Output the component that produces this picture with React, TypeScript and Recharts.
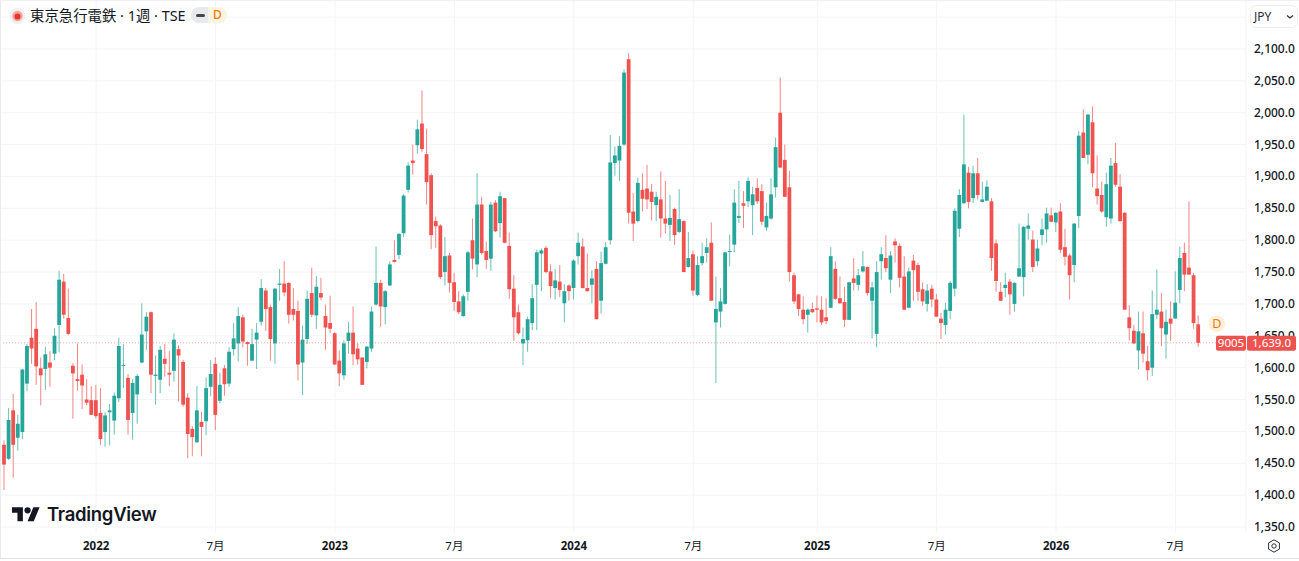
import React from 'react';
import {
  Bar,
  CartesianGrid,
  ComposedChart,
  ReferenceDot,
  ReferenceLine,
  XAxis,
  YAxis,
} from 'recharts';

// weekly OHLC, JPY
const opens = [
  1479,1457,1533,1490,1499,1575,1647,1661,1599,1598,1608,1622,1667,1735,1678,1603,1582,1589,1550,1549,
  1549,1529,1499,1530,1517,1552,1603,1584,1529,1558,1608,1657,1687,1587,1581,1614,1592,1595,1629,1609,
  1553,1504,1483,1515,1516,1570,1606,1548,1599,1575,1629,1638,1679,1640,1611,1644,1672,1721,1695,1638,
  1730,1732,1733,1692,1689,1608,1645,1717,1682,1717,1681,1670,1654,1611,1588,1642,1655,1630,1616,1609,
  1630,1699,1733,1695,1729,1769,1777,1811,1879,1925,1949,1983,1935,1902,1830,1823,1750,1776,1734,1704,
  1681,1719,1800,1762,1856,1783,1771,1859,1827,1866,1791,1724,1687,1638,1643,1670,1730,1779,1788,1751,
  1725,1735,1701,1729,1725,1775,1790,1725,1730,1755,1705,1763,1800,1921,1925,1950,2084,1845,1830,1879,
  1881,1876,1855,1864,1834,1824,1849,1813,1830,1758,1778,1714,1764,1780,1796,1671,1688,1700,1782,1793,
  1835,1858,1861,1855,1882,1877,1820,1834,1883,2000,1926,1883,1745,1715,1691,1683,1692,1693,1691,1679,
  1694,1755,1709,1703,1675,1740,1730,1751,1758,1705,1653,1767,1772,1738,1798,1791,1743,1694,1768,1761,
  1723,1700,1724,1707,1677,1667,1689,1724,1818,1858,1906,1866,1905,1860,1862,1861,1795,1719,1725,1735,
  1700,1743,1742,1818,1801,1767,1808,1817,1839,1828,1845,1789,1776,1761,1838,1969,1934,1985,1881,1871,
  1836,1834,1921,1884,1843,1679,1658,1627,1654,1610,1600,1683,1688,1652,1677,1677,1722,1780,1757,1745,1668,
];
const highs = [
  1486,1537,1559,1526,1598,1637,1692,1703,1616,1633,1626,1662,1752,1747,1724,1607,1638,1605,1582,1571,
  1573,1568,1530,1543,1561,1647,1637,1590,1582,1590,1701,1687,1688,1619,1634,1637,1626,1654,1635,1612,
  1560,1508,1571,1531,1585,1612,1616,1592,1604,1632,1670,1695,1683,1641,1661,1670,1739,1725,1699,1725,
  1755,1767,1734,1725,1705,1666,1721,1757,1744,1741,1699,1713,1656,1627,1643,1672,1696,1638,1616,1634,
  1696,1790,1738,1722,1767,1800,1811,1872,1922,1950,1989,2035,1975,1905,1837,1825,1805,1780,1749,1720,
  1715,1783,1834,1905,1868,1798,1860,1863,1876,1866,1812,1745,1699,1663,1680,1731,1785,1787,1791,1762,
  1755,1761,1731,1731,1770,1812,1803,1779,1753,1767,1782,1797,1965,1947,1963,2068,2093,1874,1898,1905,
  1918,1888,1876,1908,1893,1871,1851,1880,1831,1813,1784,1775,1796,1803,1828,1743,1725,1782,1809,1880,
  1893,1877,1899,1884,1897,1888,1859,1897,1961,2055,1950,1909,1749,1716,1712,1693,1702,1713,1712,1709,
  1789,1767,1743,1727,1735,1772,1755,1783,1759,1735,1767,1789,1808,1783,1803,1795,1775,1757,1777,1765,
  1734,1731,1730,1716,1686,1702,1736,1850,1880,1997,1915,1917,1929,1892,1894,1866,1801,1734,1749,1739,
  1734,1826,1822,1842,1815,1801,1834,1851,1851,1844,1858,1818,1779,1827,1971,2005,1998,2010,1933,1892,
  1906,1929,1953,1904,1844,1698,1667,1688,1688,1634,1721,1754,1717,1691,1704,1751,1790,1796,1861,1749,1682,
];
const lows = [
  1408,1455,1427,1470,1488,1563,1606,1573,1541,1565,1570,1612,1624,1677,1651,1520,1564,1535,1541,1526,
  1520,1479,1476,1478,1495,1546,1568,1495,1487,1512,1607,1628,1560,1542,1560,1586,1571,1578,1547,1539,
  1458,1461,1482,1461,1494,1555,1502,1544,1556,1570,1619,1610,1632,1603,1610,1598,1666,1658,1611,1606,
  1705,1712,1669,1674,1580,1557,1637,1679,1661,1706,1628,1654,1604,1571,1581,1622,1604,1605,1573,1599,
  1625,1697,1664,1668,1728,1765,1770,1805,1875,1903,1936,1939,1856,1786,1788,1739,1729,1718,1689,1684,
  1680,1705,1754,1742,1777,1755,1752,1813,1804,1795,1708,1642,1652,1604,1625,1659,1659,1720,1748,1709,
  1707,1711,1671,1705,1707,1762,1724,1719,1701,1676,1685,1762,1793,1901,1893,1948,1826,1799,1828,1845,
  1849,1831,1830,1804,1811,1799,1793,1811,1750,1757,1713,1712,1760,1765,1705,1576,1663,1699,1759,1781,
  1827,1819,1852,1808,1857,1824,1815,1832,1867,1913,1868,1735,1700,1681,1668,1655,1686,1671,1667,1668,
  1693,1706,1700,1664,1675,1721,1721,1749,1713,1646,1632,1738,1750,1717,1765,1726,1690,1693,1705,1705,
  1697,1688,1695,1680,1645,1652,1676,1712,1805,1857,1850,1858,1864,1859,1861,1752,1719,1705,1711,1683,
  1688,1742,1712,1801,1750,1759,1792,1796,1828,1813,1780,1760,1707,1734,1819,1929,1919,1883,1856,1843,
  1821,1826,1884,1829,1691,1643,1637,1597,1608,1580,1587,1676,1634,1614,1642,1677,1701,1720,1746,1661,1633,
];
const closes = [
  1448,1518,1479,1512,1597,1634,1630,1602,1588,1621,1600,1650,1738,1683,1653,1591,1579,1572,1545,1526,
  1524,1488,1525,1533,1556,1634,1604,1518,1576,1587,1652,1680,1589,1589,1628,1606,1589,1644,1619,1542,
  1496,1491,1533,1507,1568,1590,1526,1573,1574,1625,1646,1681,1641,1637,1637,1655,1725,1692,1645,1724,
  1732,1718,1683,1683,1605,1644,1708,1683,1727,1710,1663,1661,1605,1591,1638,1655,1621,1613,1573,1633,
  1688,1733,1696,1720,1762,1766,1810,1870,1917,1921,1974,1943,1891,1808,1822,1742,1775,1733,1703,1687,
  1712,1781,1771,1856,1780,1769,1856,1814,1869,1796,1723,1679,1654,1645,1676,1709,1781,1784,1750,1728,
  1737,1722,1720,1720,1768,1796,1725,1720,1740,1676,1764,1789,1922,1933,1948,2063,1843,1826,1890,1865,
  1864,1860,1868,1834,1826,1835,1808,1833,1750,1772,1721,1761,1775,1789,1705,1692,1704,1781,1783,1859,
  1838,1854,1893,1872,1861,1829,1838,1872,1946,1914,1868,1750,1704,1692,1676,1691,1687,1691,1671,1673,
  1775,1708,1701,1675,1734,1733,1745,1759,1717,1726,1750,1778,1756,1776,1792,1741,1691,1751,1753,1719,
  1704,1721,1707,1680,1670,1691,1733,1846,1871,1919,1860,1905,1871,1864,1884,1772,1736,1705,1730,1715,
  1733,1756,1821,1823,1758,1787,1817,1842,1829,1843,1785,1774,1745,1826,1964,1929,1997,1905,1869,1845,
  1888,1917,1887,1830,1691,1662,1638,1657,1622,1596,1684,1691,1662,1672,1669,1702,1772,1746,1746,1670,1639,
];

const priceTicks = [1350,1400,1450,1500,1550,1600,1650,1700,1750,1800,1850,1900,1950,2000,2050,2100];
const gridPrices = [...priceTicks, 2150];
const timeTicks = [20,46,72,98,124,150,177,203,229,255];
const timeLabels = ['2022','7月','2023','7月','2024','7月','2025','7月','2026','7月'];

const lastPrice = 1639;
const symbolCode = '9005';
const dividendWeek = 264;
const dividendPrice = 1669;

const UP = '#26a69a';
const DOWN = '#ef5350';
const GRID = '#f3f4f6';
const TEXT = '#131722';
const FONT = '"Noto Sans", "Noto Sans CJK JP", sans-serif';

const candles = opens.map((open, i) => ({
  week: i,
  open,
  high: highs[i],
  low: lows[i],
  close: closes[i],
  range: [lows[i], highs[i]],
}));

const fmtPrice = (v: number) => v.toLocaleString('en-US', { minimumFractionDigits: 1 });

// wick + body, the body is placed from the bar's own high/low pixels
const Candle = (props: any) => {
  const { x, y, width, height, payload } = props;
  const { open, high, low, close } = payload;
  const top = Math.min(y, y + height);
  const h = Math.abs(height);
  const perUnit = high > low ? h / (high - low) : 0;
  const bodyTop = top + (high - Math.max(open, close)) * perUnit;
  const bodyH = Math.max(Math.abs(open - close) * perUnit, 1);
  const cx = x + width / 2;
  const color = close >= open ? UP : DOWN;
  return (
    <g>
      <rect x={cx - 0.5} y={top} width={1} height={h} fill={color} fillOpacity={0.7} />
      <rect x={cx - 1.9} y={bodyTop} width={3.8} height={bodyH} fill={color} />
    </g>
  );
};

const TimeTick = (props: any) => {
  const { x, payload } = props;
  const label = timeLabels[timeTicks.indexOf(payload.value)];
  const isYear = !label.includes('月');
  return (
    <text
      x={x}
      y={550}
      textAnchor="middle"
      fontSize={11.5}
      fontFamily={FONT}
      fontWeight={isYear ? 700 : 400}
      fill={TEXT}
    >
      {label}
    </text>
  );
};

// the last-price tick is the red tag, it comes last so it covers 1,650.0 like the original
const PriceTick = (props: any) => {
  const { x, y, payload } = props;
  if (payload.value === lastPrice) {
    return (
      <g fontFamily={FONT} fontSize={11.5} fill="#fff" textAnchor="middle">
        <rect x={1216} y={y - 7} width={30} height={15} fill={DOWN} rx={2} />
        <rect x={1247} y={y - 7} width={49} height={15} fill={DOWN} rx={2} />
        <text x={1231} y={y + 4.5}>{symbolCode}</text>
        <text x={1271.5} y={y + 4.5}>{fmtPrice(lastPrice)}</text>
      </g>
    );
  }
  return (
    <text x={x} y={y + 4} fill={TEXT} fontSize={12} fontFamily={FONT} fontWeight={500}>
      {fmtPrice(payload.value)}
    </text>
  );
};

const DividendMark = (props: any) => {
  const { cx, cy } = props;
  return (
    <g>
      <circle cx={cx} cy={cy} r={8.5} fill="#fff0dc" />
      <text x={cx} y={cy + 4.5} textAnchor="middle" fontSize={12.5} fontFamily={FONT} fill="#f57c00">
        D
      </text>
    </g>
  );
};

const Legend = () => (
  <div style={{ position: 'absolute', left: 0, top: 0, height: 30, pointerEvents: 'none' }}>
    <svg width={18} height={18} style={{ position: 'absolute', left: 9, top: 7 }}>
      <circle cx={8.5} cy={9} r={8} fill="#eef0f5" />
      <circle cx={8.5} cy={9} r={5.2} fill="#f7a29b" />
      <circle cx={8.5} cy={9.5} r={3} fill="#e5372c" />
    </svg>
    <div
      style={{
        position: 'absolute',
        left: 30,
        top: 6,
        whiteSpace: 'nowrap',
        fontFamily: FONT,
        fontSize: 14.4,
        lineHeight: '20px',
        color: TEXT,
      }}
    >
      東京急行電鉄 · 1週 · TSE
    </div>
    <div
      style={{
        position: 'absolute',
        left: 191,
        top: 7,
        width: 17,
        height: 16,
        background: '#e8e9ec',
        borderRadius: '8px 0 0 8px',
      }}
    >
      <div style={{ position: 'absolute', left: 5, top: 6.5, width: 9, height: 3.5, borderRadius: 2, background: '#43464f' }} />
    </div>
    <div
      style={{
        position: 'absolute',
        left: 208,
        top: 7,
        width: 19,
        height: 16,
        background: '#fff3e4',
        borderRadius: '0 8px 8px 0',
        color: '#f57c00',
        fontFamily: FONT,
        fontSize: 12,
        fontWeight: 500,
        lineHeight: '16px',
        textAlign: 'center',
      }}
    >
      D
    </div>
  </div>
);

const CurrencyButton = () => (
  <div
    style={{
      position: 'absolute',
      left: 1250,
      top: 5,
      width: 46,
      height: 21,
      background: '#fff',
      border: '1px solid #eceef2',
      borderRadius: 6,
      fontFamily: FONT,
      fontSize: 12,
      lineHeight: '21px',
      color: '#2a2e39',
    }}
  >
    <span style={{ position: 'absolute', left: 3 }}>JPY</span>
    <svg width={8} height={6} style={{ position: 'absolute', left: 35, top: 8 }}>
      <path d="M1 1.5 L4 4 L7 1.5" fill="none" stroke="#2a2e39" strokeWidth={1.2} />
    </svg>
  </div>
);

const Watermark = () => (
  <div style={{ position: 'absolute', left: 12, top: 504, height: 22, pointerEvents: 'none' }}>
    <svg width={28} height={22} viewBox="0 0 36 28" style={{ position: 'absolute', left: 0, top: 0 }}>
      <path d="M14 22H7V11H0V4h14v18zM28 22h-8l7.5-18h8L28 22z" fill={TEXT} />
      <circle cx={20} cy={8} r={4} fill={TEXT} />
    </svg>
    <div
      style={{
        position: 'absolute',
        left: 35,
        top: -1,
        fontFamily: 'Inter, sans-serif',
        fontSize: 18.5,
        fontWeight: 600,
        lineHeight: '22px',
        letterSpacing: -0.3,
        color: TEXT,
        whiteSpace: 'nowrap',
      }}
    >
      TradingView
    </div>
  </div>
);

const SettingsIcon = () => (
  <svg width={16} height={16} viewBox="0 0 16 16" style={{ position: 'absolute', left: 1266, top: 538 }}>
    <path
      d="M8 1.8 L13.4 4.9 V11.1 L8 14.2 L2.6 11.1 V4.9 Z"
      fill="none"
      stroke="#2a2e39"
      strokeWidth={1}
      strokeLinejoin="round"
    />
    <circle cx={8} cy={8} r={2.2} fill="none" stroke="#2a2e39" strokeWidth={1} />
  </svg>
);

export default function App() {
  return (
    <div
      style={{
        position: 'absolute',
        left: 0,
        top: 0,
        width: 1299,
        height: 561,
        background: '#fff',
        overflow: 'hidden',
      }}
    >
      <ComposedChart
        width={1299}
        height={561}
        data={candles}
        margin={{ top: 1, right: 0, bottom: 3, left: 0 }}
      >
        <CartesianGrid stroke={GRID} horizontalValues={gridPrices} />
        <XAxis
          dataKey="week"
          type="number"
          domain={[-0.936, 270.35]}
          allowDataOverflow
          ticks={timeTicks}
          interval={0}
          height={25}
          axisLine={false}
          tickLine={false}
          tick={<TimeTick />}
        />
        <YAxis
          orientation="right"
          width={53}
          domain={[1340.6, 2175.3]}
          allowDataOverflow
          ticks={[...priceTicks, lastPrice]}
          interval={0}
          axisLine={false}
          tickLine={false}
          tickMargin={2}
          tick={<PriceTick />}
        />
        <ReferenceLine y={lastPrice} stroke={DOWN} strokeOpacity={0.5} strokeDasharray="1 2" />
        <Bar dataKey="range" barSize={4} shape={<Candle />} isAnimationActive={false} />
        <ReferenceDot x={dividendWeek} y={dividendPrice} shape={<DividendMark />} />
      </ComposedChart>
      <div style={{ position: 'absolute', left: 0, top: 0, width: 1, height: 558, background: '#e9ebf0' }} />
      <div style={{ position: 'absolute', left: 0, top: 0, width: 1299, height: 1, background: '#eef0f3' }} />
      <div style={{ position: 'absolute', left: 0, top: 558, width: 1299, height: 1, background: '#e0e3eb' }} />
      <Legend />
      <CurrencyButton />
      <Watermark />
      <SettingsIcon />
    </div>
  );
}
